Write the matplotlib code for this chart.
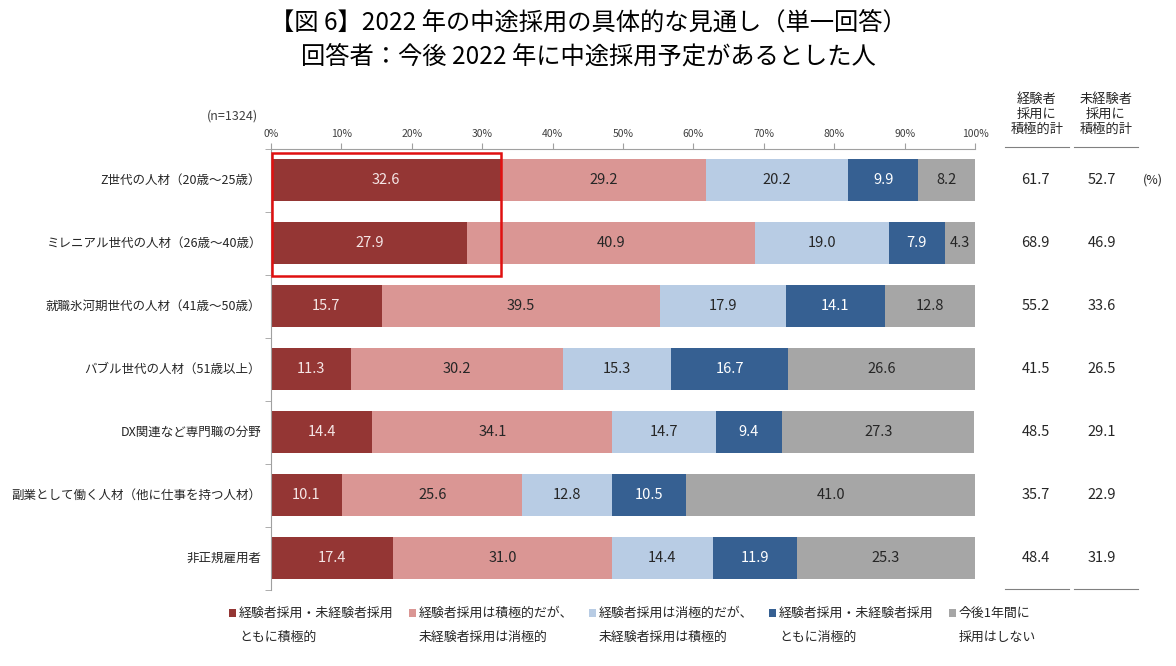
import matplotlib
matplotlib.use("Agg")
import matplotlib.pyplot as plt
from matplotlib.patches import Rectangle
from matplotlib.lines import Line2D
import numpy as np

plt.rcParams['font.family'] = ['Noto Sans CJK JP', 'DejaVu Sans']

categories = ["Z世代の人材（20歳～25歳）",
              "ミレニアル世代の人材（26歳～40歳）",
              "就職氷河期世代の人材（41歳～50歳）",
              "バブル世代の人材（51歳以上）",
              "DX関連など専門職の分野",
              "副業として働く人材（他に仕事を持つ人材）",
              "非正規雇用者"]
both_positive = [32.6, 27.9, 15.7, 11.3, 14.4, 10.1, 17.4]
exp_pos_inexp_neg = [29.2, 40.9, 39.5, 30.2, 34.1, 25.6, 31.0]
exp_neg_inexp_pos = [20.2, 19.0, 17.9, 15.3, 14.7, 12.8, 14.4]
both_negative = [9.9, 7.9, 14.1, 16.7, 9.4, 10.5, 11.9]
no_hiring = [8.2, 4.3, 12.8, 26.6, 27.3, 41.0, 25.3]
exp_total = [61.7, 68.9, 55.2, 41.5, 48.5, 35.7, 48.4]
inexp_total = [52.7, 46.9, 33.6, 26.5, 29.1, 22.9, 31.9]
series_labels = ["経験者採用・未経験者採用\nともに積極的",
                 "経験者採用は積極的だが、\n未経験者採用は消極的",
                 "経験者採用は消極的だが、\n未経験者採用は積極的",
                 "経験者採用・未経験者採用\nともに消極的",
                 "今後1年間に\n採用はしない"]
xticks = [0, 10, 20, 30, 40, 50, 60, 70, 80, 90, 100]

colors = ["#943634", "#DA9694", "#B8CCE4", "#366092", "#A6A6A6"]
text_colors = ["#F5E6E6", "#262626", "#262626", "#FFFFFF", "#262626"]

W, H = 1176, 666
fig = plt.figure(figsize=(W / 100, H / 100), dpi=100)

def fx(px):
    return px / W

def fy(py):
    return 1 - py / H

ax = fig.add_axes([fx(271), fy(589.5), fx(975) - fx(271), fy(148.5) - fy(589.5)])

series = [both_positive, exp_pos_inexp_neg, exp_neg_inexp_pos, both_negative, no_hiring]
y = np.arange(len(categories))
left = np.zeros(len(categories))
for vals, c, tc in zip(series, colors, text_colors):
    vals = np.array(vals)
    ax.barh(y, vals, left=left, height=0.66, color=c, edgecolor='none')
    for yi, (l, v) in enumerate(zip(left, vals)):
        ax.text(l + v / 2, yi, f"{v:.1f}", ha='center', va='center',
                fontsize=10.5, color=tc)
    left = left + vals

ax.set_xlim(0, 100)
ax.set_ylim(len(categories) - 0.5, -0.5)
ax.xaxis.tick_top()
ax.set_xticks(xticks)
ax.set_xticklabels([f"{t}%" for t in xticks], fontsize=7.5, color='#404040')
ax.tick_params(axis='x', direction='out', length=4, color='#A0A0A0', pad=3)
ax.set_yticks(np.arange(len(categories) + 1) - 0.5, minor=True)
ax.set_yticks([])
ax.tick_params(axis='y', which='minor', length=4, color='#A0A0A0')
for s in ['right', 'bottom']:
    ax.spines[s].set_visible(False)
for s in ['top', 'left']:
    ax.spines[s].set_color('#A0A0A0')
    ax.spines[s].set_linewidth(0.8)

# category labels
for yi, cat in enumerate(categories):
    ax.text(-1.4, yi, cat, ha='right', va='center', fontsize=9, color='#262626')

# red highlight rectangle
ax.add_patch(Rectangle((0.15, -0.43), both_positive[0] - 0.15, 1.95, fill=False,
                       edgecolor='#E01010', linewidth=1.8, clip_on=False, zorder=5))

# right columns
for yi in range(len(categories)):
    ax.text(108.6, yi, f"{exp_total[yi]:.1f}", ha='center', va='center',
            fontsize=10.5, color='#262626', clip_on=False)
    ax.text(118.0, yi, f"{inexp_total[yi]:.1f}", ha='center', va='center',
            fontsize=10.5, color='#262626', clip_on=False)
ax.text(125.2, 0, "(%)", ha='center', va='center', fontsize=9, color='#262626')

fig.text(fx(1037), fy(114), "経験者\n採用に\n積極的計", ha='center', va='center',
         fontsize=9.5, color='#262626', linespacing=1.2)
fig.text(fx(1106), fy(114), "未経験者\n採用に\n積極的計", ha='center', va='center',
         fontsize=9.5, color='#262626', linespacing=1.2)
for x0, x1 in [(1005, 1069), (1074, 1138)]:
    for yy in (147, 589):
        fig.add_artist(Line2D([fx(x0), fx(x1)], [fy(yy), fy(yy)], color='#808080',
                              linewidth=0.8))

fig.text(fx(258), fy(116), "(n=1324)", ha='right', va='center', fontsize=9,
         color='#404040')

# title
fig.text(0.5, fy(23), "【図 6】2022 年の中途採用の具体的な見通し（単一回答）",
         ha='center', va='center', fontsize=17.5, color='black')
fig.text(0.5, fy(57), "回答者：今後 2022 年に中途採用予定があるとした人",
         ha='center', va='center', fontsize=17.5, color='black')

# legend
for i, (lab, c) in enumerate(zip(series_labels, colors)):
    x = 229 + 180 * i
    fig.add_artist(Rectangle((fx(x), fy(617)), fx(7), fy(609) - fy(617),
                             facecolor=c, edgecolor='none'))
    l1, l2 = lab.split("\n")
    fig.text(fx(x + 10), fy(613), l1, ha='left', va='center', fontsize=9.3, color='#262626')
    fig.text(fx(x + 10), fy(637), l2, ha='left', va='center', fontsize=9.3, color='#262626')

fig.savefig("out.png", dpi=100, facecolor='white')
